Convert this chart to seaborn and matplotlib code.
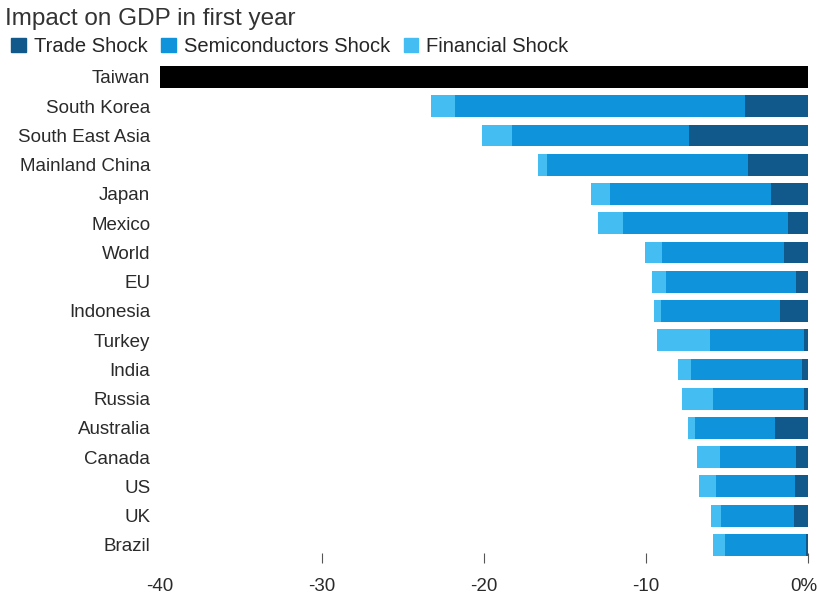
import matplotlib
matplotlib.use("Agg")
import matplotlib.pyplot as plt
import matplotlib.transforms as mtransforms
import seaborn as sns
import pandas as pd
import numpy as np
from matplotlib.patches import Patch

categories = ["Taiwan", "South Korea", "South East Asia", "Mainland China", "Japan", "Mexico",
              "World", "EU", "Indonesia", "Turkey", "India", "Russia", "Australia", "Canada",
              "US", "UK", "Brazil"]
trade = [np.nan, -3.9, -7.35, -3.7, -2.3, -1.25, -1.5, -0.75, -1.75, -0.25, -0.35, -0.25, -2.05, -0.75, -0.8, -0.85, -0.1]
semis = [np.nan, -17.9, -10.9, -12.4, -9.9, -10.2, -7.5, -8.0, -7.3, -5.8, -6.9, -5.6, -4.9, -4.7, -4.9, -4.55, -5.0]
financial = [np.nan, -1.5, -1.85, -0.55, -1.2, -1.5, -1.05, -0.9, -0.45, -3.3, -0.75, -1.9, -0.45, -1.4, -1.0, -0.6, -0.75]
taiwan_total = [-40.0]
tick_values = [-40, -30, -20, -10, 0]
tick_labels = ["-40", "-30", "-20", "-10", "0%"]

c_trade = "#11598a"
c_semi = "#0f93da"
c_fin = "#43bdf2"

sns.set_theme(style="white")
plt.rcParams["font.family"] = ["Liberation Sans", "DejaVu Sans"]

df = pd.DataFrame({"cat": categories, "trade": trade, "semis": semis, "fin": financial})
df["s1"] = df["trade"]
df["s2"] = df["trade"] + df["semis"]
df["s3"] = df["s2"] + df["fin"]
tw = pd.DataFrame({"cat": ["Taiwan"], "val": taiwan_total})

fig = plt.figure(figsize=(8.18, 5.96), dpi=100)
ax = fig.add_axes([160/818, 1-562.5/596, 648/818, (562.5-65.3)/596])

kw = dict(y="cat", order=categories, width=0.75, saturation=1, ax=ax, errorbar=None, linewidth=0)
sns.barplot(data=df, x="s3", color=c_fin, **kw)
sns.barplot(data=df, x="s2", color=c_semi, **kw)
sns.barplot(data=df, x="s1", color=c_trade, **kw)
sns.barplot(data=tw, x="val", color="black", **kw)

ax.set_xlim(-40, 0)
ax.set_ylim(16.6, -0.4)
ax.set_xlabel("")
ax.set_ylabel("")
for s in ax.spines.values():
    s.set_visible(False)
ax.set_xticks(tick_values)
ax.set_xticklabels(tick_labels, fontsize=13.5, color="#2a2a2a")
ax.tick_params(axis="x", direction="in", length=7, width=0.8, color="#555555", pad=11, bottom=True)
ax.xaxis.get_major_ticks()[0].tick1line.set_visible(False)
last = ax.get_xticklabels()[-1]
last.set_ha("right")
last.set_transform(last.get_transform() + mtransforms.ScaledTranslation(9/100, 0, fig.dpi_scale_trans))
ax.tick_params(axis="y", length=0, pad=7, labelsize=13.5, labelcolor="#2a2a2a")
ax.grid(False)

fig.text(0.006, 0.968, "Impact on GDP in first year", fontsize=17.5, color="#333333", va="center", ha="left")
handles = [Patch(color=c_trade, label="Trade Shock"),
           Patch(color=c_semi, label="Semiconductors Shock"),
           Patch(color=c_fin, label="Financial Shock")]
fig.legend(handles=handles, loc="center left", bbox_to_anchor=(0.014, 0.922), ncol=3, frameon=False,
           fontsize=14.5, handlelength=0.7, handleheight=0.7, handletextpad=0.4, columnspacing=0.7,
           borderaxespad=0, borderpad=0)

fig.savefig("out.png", dpi=100)
